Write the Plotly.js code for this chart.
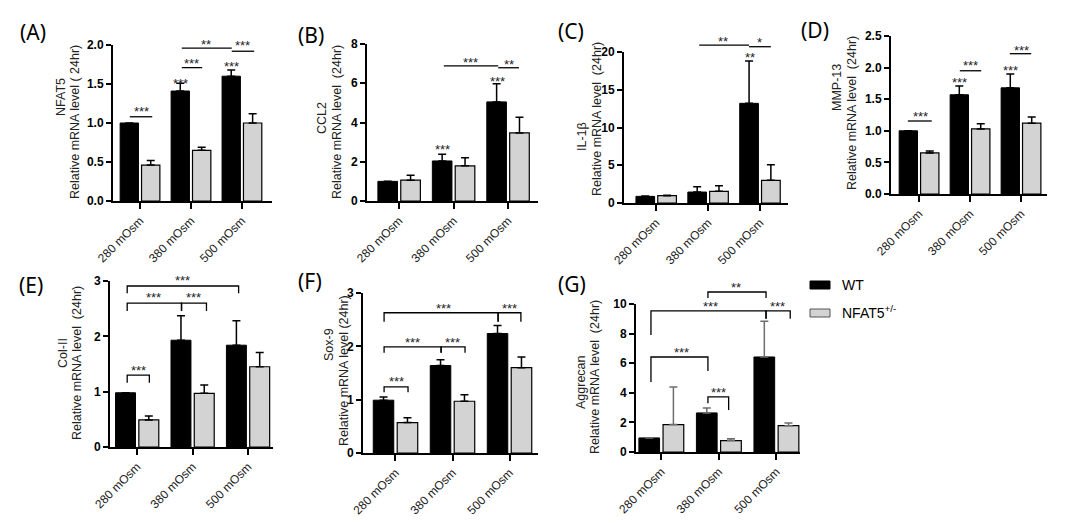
<!DOCTYPE html>
<html>
<head>
<meta charset="utf-8">
<script src="https://cdn.plot.ly/plotly-3.0.1.min.js"></script>
<style>html,body{margin:0;padding:0;background:#fff;}#chart{width:1069px;height:523px;}</style>
</head>
<body>
<div id="chart"></div>
<script>
// ---------------- DATA ----------------
const categories = ['280 mOsm', '380 mOsm', '500 mOsm'];
const seriesNames = ['WT', 'NFAT5<sup>+/-</sup>'];

// (A) NFAT5
const nfat5WT = [1.00, 1.41, 1.60];
const nfat5WTErr = [0.00, 0.10, 0.08];
const nfat5KO = [0.46, 0.65, 1.00];
const nfat5KOErr = [0.06, 0.04, 0.12];
// (B) CCL2
const ccl2WT = [1.00, 2.04, 5.05];
const ccl2WTErr = [0.00, 0.34, 0.92];
const ccl2KO = [1.06, 1.79, 3.47];
const ccl2KOErr = [0.25, 0.41, 0.80];
// (C) IL-1β
const il1bWT = [0.88, 1.45, 13.2];
const il1bWTErr = [0.05, 0.70, 5.6];
const il1bKO = [0.97, 1.55, 3.00];
const il1bKOErr = [0.05, 0.72, 2.05];
// (D) MMP-13
const mmp13WT = [1.00, 1.57, 1.68];
const mmp13WTErr = [0.00, 0.14, 0.22];
const mmp13KO = [0.65, 1.03, 1.12];
const mmp13KOErr = [0.03, 0.08, 0.10];
// (E) Col-II
const col2WT = [0.98, 1.93, 1.84];
const col2WTErr = [0.00, 0.44, 0.44];
const col2KO = [0.49, 0.97, 1.45];
const col2KOErr = [0.07, 0.15, 0.26];
// (F) Sox-9
const sox9WT = [0.99, 1.64, 2.24];
const sox9WTErr = [0.06, 0.11, 0.15];
const sox9KO = [0.57, 0.97, 1.60];
const sox9KOErr = [0.09, 0.12, 0.20];
// (G) Aggrecan
const aggWT = [0.95, 2.64, 6.42];
const aggWTErr = [0.00, 0.33, 2.41];
const aggKO = [1.85, 0.77, 1.78];
const aggKOErr = [2.54, 0.13, 0.18];

// significance marks (data coordinates of each panel)
const sigA = [
  {k:'line', x0:-0.2, x1:0.24, y:1.08, t:'***', tx:0.02, ty:1.19},
  {k:'line', x0:0.82, x1:1.22, y:1.71, t:'***', tx:1.02, ty:1.81},
  {k:'line', x0:0.82, x1:1.80, y:1.96, t:'**', tx:1.29, ty:2.05},
  {k:'line', x0:1.80, x1:2.24, y:1.92, t:'***', tx:2.02, ty:2.04},
  {k:'star', t:'***', tx:0.8, ty:1.55},
  {k:'star', t:'***', tx:1.8, ty:1.77}
];
const sigB = [
  {k:'star', t:'***', tx:0.8, ty:2.8},
  {k:'star', t:'***', tx:1.8, ty:6.28},
  {k:'line', x0:0.82, x1:1.82, y:6.89, t:'***', tx:1.31, ty:7.24},
  {k:'line', x0:1.82, x1:2.2, y:6.79, t:'**', tx:2.02, ty:7.14}
];
const sigC = [
  {k:'star', t:'**', tx:1.8, ty:19.7},
  {k:'line', x0:0.83, x1:1.79, y:20.9, t:'**', tx:1.29, ty:21.9},
  {k:'line', x0:1.79, x1:2.21, y:20.7, t:'*', tx:2.0, ty:21.7}
];
const sigD = [
  {k:'line', x0:-0.22, x1:0.25, y:1.155, t:'***', tx:0.02, ty:1.28},
  {k:'line', x0:0.8, x1:1.22, y:1.95, t:'***', tx:1.0, ty:2.09},
  {k:'line', x0:1.78, x1:2.2, y:2.22, t:'***', tx:2.0, ty:2.33},
  {k:'star', t:'***', tx:0.8, ty:1.82},
  {k:'star', t:'***', tx:1.8, ty:2.01}
];
const sigE = [
  {k:'br', x0:-0.18, x1:0.22, y:1.30, l0:1.16, l1:1.16, t:'***', tx:0.02, ty:1.45},
  {k:'br', x0:-0.18, x1:0.8, y:2.6, l0:2.46, l1:2.46, t:'***', tx:0.3, ty:2.77},
  {k:'br', x0:0.8, x1:1.25, y:2.6, l0:2.46, l1:2.46, t:'***', tx:1.02, ty:2.77},
  {k:'br', x0:-0.18, x1:1.83, y:2.91, l0:2.78, l1:2.78, t:'***', tx:0.82, ty:3.07}
];
const sigF = [
  {k:'br', x0:-0.2, x1:0.22, y:1.24, l0:1.14, l1:1.14, t:'***', tx:0.02, ty:1.41},
  {k:'br', x0:-0.2, x1:0.8, y:1.99, l0:1.88, l1:1.88, t:'***', tx:0.3, ty:2.14},
  {k:'br', x0:0.8, x1:1.22, y:1.99, l0:1.88, l1:1.88, t:'***', tx:1.0, ty:2.14},
  {k:'br', x0:-0.2, x1:1.8, y:2.63, l0:2.46, l1:2.46, t:'***', tx:0.85, ty:2.78},
  {k:'br', x0:1.8, x1:2.2, y:2.63, l0:2.46, l1:2.46, t:'***', tx:2.0, ty:2.78}
];
const sigG = [
  {k:'br', x0:-0.18, x1:0.81, y:6.42, l0:4.73, l1:5.47, t:'***', tx:0.35, ty:6.96},
  {k:'br', x0:0.81, x1:1.17, y:3.72, l0:3.3, l1:2.84, t:'***', tx:1.0, ty:4.26},
  {k:'br', x0:-0.18, x1:1.82, y:9.53, l0:7.9, l1:9.0, t:'***', tx:0.85, ty:10.07},
  {k:'br', x0:1.82, x1:2.24, y:9.53, l0:9.0, l1:9.0, t:'***', tx:2.02, ty:10.07},
  {k:'br', x0:0.81, x1:1.82, y:10.81, l0:10.4, l1:10.4, t:'**', tx:1.3, ty:11.35}
];

// ---------------- LAYOUT HELPERS ----------------
const W = 1069, H = 523;
const fx = x => x / W;
const fy = y => 1 - y / H;
const FONT = 'Liberation Sans, Arial, sans-serif';

const panels = [
  {label:'(A)', gene:'NFAT5', unit:'Relative mRNA level ( 24hr)', wt:nfat5WT, wtE:nfat5WTErr, ko:nfat5KO, koE:nfat5KOErr,
   yr:[0,2], dt:0.5, fmt:'.1f', box:[113,272,45,201], xr:[-0.53,2.59], tx:[61,75], ty:[97,122], lab:[33,32], sig:sigA},
  {label:'(B)', gene:'CCL2', unit:'Relative mRNA level  (24hr)', wt:ccl2WT, wtE:ccl2WTErr, ko:ccl2KO, koE:ccl2KOErr,
   yr:[0,8], dt:2, fmt:'', box:[367,538,44,201], xr:[-0.59,2.55], tx:[322,337], ty:[118,122], lab:[311,35], sig:sigB},
  {label:'(C)', gene:'IL-1β', unit:'Relative mRNA level  (24hr)', wt:il1bWT, wtE:il1bWTErr, ko:il1bKO, koE:il1bKOErr,
   yr:[0,20], dt:5, fmt:'', box:[624,788,52,203], xr:[-0.62,2.54], tx:[582,597], ty:[137,119], lab:[571,31], sig:sigC},
  {label:'(D)', gene:'MMP-13', unit:'Relative mRNA level  (24hr)', wt:mmp13WT, wtE:mmp13WTErr, ko:mmp13KO, koE:mmp13KOErr,
   yr:[0,2.5], dt:0.5, fmt:'.1f', box:[891,1047,36,194], xr:[-0.55,2.51], tx:[837,852], ty:[88,113], lab:[815,30], sig:sigD},
  {label:'(E)', gene:'Col-II', unit:'Relative mRNA level  (24hr)', wt:col2WT, wtE:col2WTErr, ko:col2KO, koE:col2KOErr,
   yr:[0,3], dt:1, fmt:'', box:[110,273,281,447], xr:[-0.49,2.45], tx:[63,77], ty:[353,363], lab:[31,285], sig:sigE},
  {label:'(F)', gene:'Sox-9', unit:'Relative mRNA level (24hr)', wt:sox9WT, wtE:sox9WTErr, ko:sox9KO, koE:sox9KOErr,
   yr:[0,3], dt:1, fmt:'', box:[363,538,293,453], xr:[-0.57,2.5], tx:[329,344], ty:[345,371], lab:[310,281], sig:sigF},
  {label:'(G)', gene:'Aggrecan', unit:'Relative mRNA level  (24hr)', wt:aggWT, wtE:aggWTErr, ko:aggKO, koE:aggKOErr,
   yr:[0,10], dt:2, fmt:'', box:[636,800,304,452], xr:[-0.44,2.41], tx:[581,595], ty:[382,377], lab:[572,284], sig:sigG, errGray:true}
];

const data = [];
const layout = {
  width: W, height: H,
  margin: {l:0, r:0, t:0, b:0},
  paper_bgcolor: '#ffffff', plot_bgcolor: 'rgba(0,0,0,0)',
  showlegend: false, barmode: 'overlay',
  font: {family: FONT, color: '#000'},
  shapes: [], annotations: []
};

const BW = 0.36;
panels.forEach((p, i) => {
  const n = i + 1;
  const xa = n === 1 ? 'x' : 'x' + n;
  const ya = n === 1 ? 'y' : 'y' + n;
  const xk = n === 1 ? 'xaxis' : 'xaxis' + n;
  const yk = n === 1 ? 'yaxis' : 'yaxis' + n;
  const zeros = categories.map(() => 0);
  const errCol = p.errGray ? '#6e6e6e' : '#000000';
  data.push({
    type:'bar', name:'WT', x:categories, y:p.wt, xaxis:xa, yaxis:ya,
    offset:-0.39, width:BW,
    marker:{color:'#000000', line:{color:'#000000', width:1}},
    error_y:{type:'data', symmetric:false, array:p.wtE, arrayminus:zeros, color:errCol, thickness:1.5, width:4},
    cliponaxis:false, hoverinfo:'x+y'
  });
  data.push({
    type:'bar', name:'NFAT5+/-', x:categories, y:p.ko, xaxis:xa, yaxis:ya,
    offset:0.03, width:BW,
    marker:{color:'#d3d3d3', line:{color:'#000000', width:1.2}},
    error_y:{type:'data', symmetric:false, array:p.koE, arrayminus:zeros, color:errCol, thickness:1.5, width:4},
    cliponaxis:false, hoverinfo:'x+y'
  });
  const [xl, xr, yt, yb] = p.box;
  layout[xk] = {
    domain:[fx(xl), fx(xr)], anchor:ya, type:'category', range:p.xr,
    showline:true, linecolor:'#000', linewidth:2, ticks:'outside', ticklen:6, tickwidth:2, tickcolor:'#000',
    tickangle:-45, tickfont:{family:FONT, size:12, color:'#222'},
    showgrid:false, zeroline:false, fixedrange:true
  };
  layout[yk] = {
    domain:[fy(yb), fy(yt)], anchor:xa, range:p.yr, dtick:p.dt, tick0:0, tickformat:p.fmt,
    showline:true, linecolor:'#000', linewidth:2, ticks:'outside', ticklen:5, tickwidth:2, tickcolor:'#000',
    tickfont:{family:FONT, size:12, color:'#000', weight:'bold'},
    showgrid:false, zeroline:false, fixedrange:true
  };
  // axis value -> paper fraction (so marks above the axis top are still drawn, unclipped)
  const dy0 = fy(yb), dy1 = fy(yt), dx0 = fx(xl), dx1 = fx(xr);
  const PY = v => dy0 + (v - p.yr[0]) / (p.yr[1] - p.yr[0]) * (dy1 - dy0);
  const PX = v => dx0 + (v - p.xr[0]) / (p.xr[1] - p.xr[0]) * (dx1 - dx0);

  // panel label
  layout.annotations.push({xref:'paper', yref:'paper', x:fx(p.lab[0]), y:fy(p.lab[1]),
    xanchor:'center', yanchor:'middle', showarrow:false, text:p.label,
    font:{family:'Noto Sans, DejaVu Sans, sans-serif', size:21, color:'#000'}});
  // y titles (two lines)
  layout.annotations.push({xref:'paper', yref:'paper', x:fx(p.tx[0]), y:fy(p.ty[0]),
    xanchor:'center', yanchor:'middle', showarrow:false, textangle:-90, text:p.gene,
    font:{family:FONT, size:12.5, color:'#222'}});
  layout.annotations.push({xref:'paper', yref:'paper', x:fx(p.tx[1]), y:fy(p.ty[1]),
    xanchor:'center', yanchor:'middle', showarrow:false, textangle:-90, text:p.unit,
    font:{family:FONT, size:12.5, color:'#222'}});
  // significance marks
  const ln = {color:'#000', width:1.3};
  p.sig.forEach(s => {
    if (s.k === 'line') {
      layout.shapes.push({type:'line', xref:'paper', yref:'paper',
        x0:PX(s.x0), x1:PX(s.x1), y0:PY(s.y), y1:PY(s.y), line:ln});
    } else if (s.k === 'br') {
      layout.shapes.push({type:'path', xref:'paper', yref:'paper',
        path:`M ${PX(s.x0)},${PY(s.l0)} L ${PX(s.x0)},${PY(s.y)} L ${PX(s.x1)},${PY(s.y)} L ${PX(s.x1)},${PY(s.l1)}`,
        line:ln});
    }
    layout.annotations.push({xref:'paper', yref:'paper', x:PX(s.tx), y:PY(s.ty), xanchor:'center', yanchor:'middle',
      yshift:-3.5, showarrow:false, text:s.t, font:{family:FONT, size:13, color:'#222'}});
  });
});

// legend (drawn manually to match the wide key boxes)
layout.shapes.push({type:'rect', xref:'paper', yref:'paper', x0:fx(810), x1:fx(830), y0:fy(289), y1:fy(281),
  fillcolor:'#000', line:{color:'#000', width:1}});
layout.shapes.push({type:'rect', xref:'paper', yref:'paper', x0:fx(810), x1:fx(830), y0:fy(317), y1:fy(309),
  fillcolor:'#d3d3d3', line:{color:'#555', width:1}});
layout.annotations.push({xref:'paper', yref:'paper', x:fx(840), y:fy(285), xanchor:'left', yanchor:'middle',
  showarrow:false, text:seriesNames[0], font:{family:FONT, size:14, color:'#000'}});
layout.annotations.push({xref:'paper', yref:'paper', x:fx(840), y:fy(312), xanchor:'left', yanchor:'middle',
  showarrow:false, text:seriesNames[1], font:{family:FONT, size:14, color:'#000'}});

Plotly.newPlot('chart', data, layout, {staticPlot:true, displayModeBar:false});
</script>
</body>
</html>
